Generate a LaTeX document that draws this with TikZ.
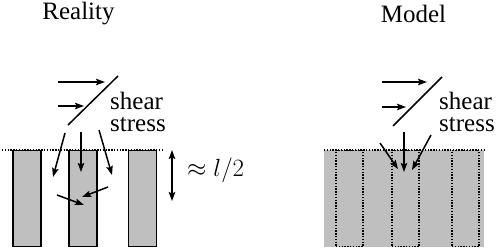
\documentclass[tikz,border=0pt]{standalone}
\usepackage{fontspec}
\setmainfont{Liberation Serif}
\usepackage{tikz}
\usetikzlibrary{arrows.meta, positioning}

\begin{document}
\begin{tikzpicture}[x=1pt, y=-1pt,
    lbl/.style={inner sep=0pt, font=\fontsize{25}{22}\selectfont},
    pillar/.style={draw, line width=1.5pt, fill=gray!50, minimum width=28pt,
                   minimum height=96pt, inner sep=0pt},
    ghost/.style={draw, line width=1.5pt, dash pattern=on 1.4pt off 1.4pt,
                  minimum width=27pt, minimum height=96pt, inner sep=0pt},
    arr/.style={-{Stealth[length=9pt, width=6.5pt, inset=1.5pt]}, line width=1.5pt},
    dblarr/.style={{Stealth[length=9pt, width=6.5pt, inset=1.5pt]}-{Stealth[length=9pt, width=6.5pt, inset=1.5pt]},
                   line width=1.5pt},
    dots/.style={line width=1.5pt, dash pattern=on 1.4pt off 1.4pt}
]
\useasboundingbox (0,0) rectangle (498,248);
% Reality
\node[lbl, anchor=base] (reality) at (78.5,20) {Reality};
\node[pillar, anchor=north] (p1) at (27,150) {};
\node[pillar, anchor=north] (p2) at (83,150) {};
\node[pillar, anchor=north] (p3) at (142.5,150) {};
\coordinate (top1a) at (2,150);
\coordinate (top1b) at (162,150);
\draw[dots] (top1a) -- (top1b);
\node[lbl, align=left, anchor=base west] (stress1) at (110,132) {shear\\stress};
\coordinate (s1a) at (68,125);
\coordinate (s1b) at (118,76);
\draw[line width=1.5pt] (s1a) -- (s1b);
\coordinate (f1a) at (58,82);
\coordinate (f1b) at (105,82);
\coordinate (f2a) at (58,106);
\coordinate (f2b) at (84,106);
\draw[arr] (f1a) -- (f1b);
\draw[arr] (f2a) -- (f2b);
\coordinate (d1a) at (65,133);
\coordinate (d1b) at (53,177);
\coordinate (d2a) at (81,132);
\coordinate (d2b) at (81,172);
\coordinate (d3a) at (99,130);
\coordinate (d3b) at (112,175);
\coordinate (d4a) at (108,187);
\coordinate (d4b) at (82,197);
\coordinate (d5a) at (57,195);
\coordinate (d5b) at (84,205);
\foreach \i in {1,...,5}
  \draw[arr] (d\i a) -- (d\i b);
\coordinate (h1) at (172,150);
\coordinate (h2) at (172,201);
\draw[dblarr] (h1) -- (h2);
\node[lbl, anchor=base west] (half) at (187,177) {$\approx l/2$};
% Model
\node[lbl, anchor=base] (model) at (413.5,23) {Model};
\node[fill=gray!50, anchor=north west, minimum width=160pt, minimum height=97pt,
      inner sep=0pt] (slab) at (324,150) {};
\draw[dots] (slab.north west) -- (slab.north east);
\node[ghost, anchor=north] (g1) at (349.5,150) {};
\node[ghost, anchor=north] (g2) at (405.5,150) {};
\node[ghost, anchor=north] (g3) at (465.5,150) {};
\node[lbl, align=left, anchor=base west] (stress2) at (439,132) {shear\\stress};
\coordinate (s2a) at (393,126);
\coordinate (s2b) at (442,77);
\draw[line width=1.5pt] (s2a) -- (s2b);
\coordinate (m1a) at (382,82);
\coordinate (m1b) at (427,82);
\coordinate (m2a) at (382,107);
\coordinate (m2b) at (406,107);
\draw[arr] (m1a) -- (m1b);
\draw[arr] (m2a) -- (m2b);
\coordinate (n1a) at (380,143);
\coordinate (n1b) at (398,169);
\coordinate (n2a) at (404,132);
\coordinate (n2b) at (404,172);
\coordinate (n3a) at (431,135);
\coordinate (n3b) at (412,170);
\foreach \i in {1,2,3}
  \draw[arr] (n\i a) -- (n\i b);
\end{tikzpicture}
\end{document}
